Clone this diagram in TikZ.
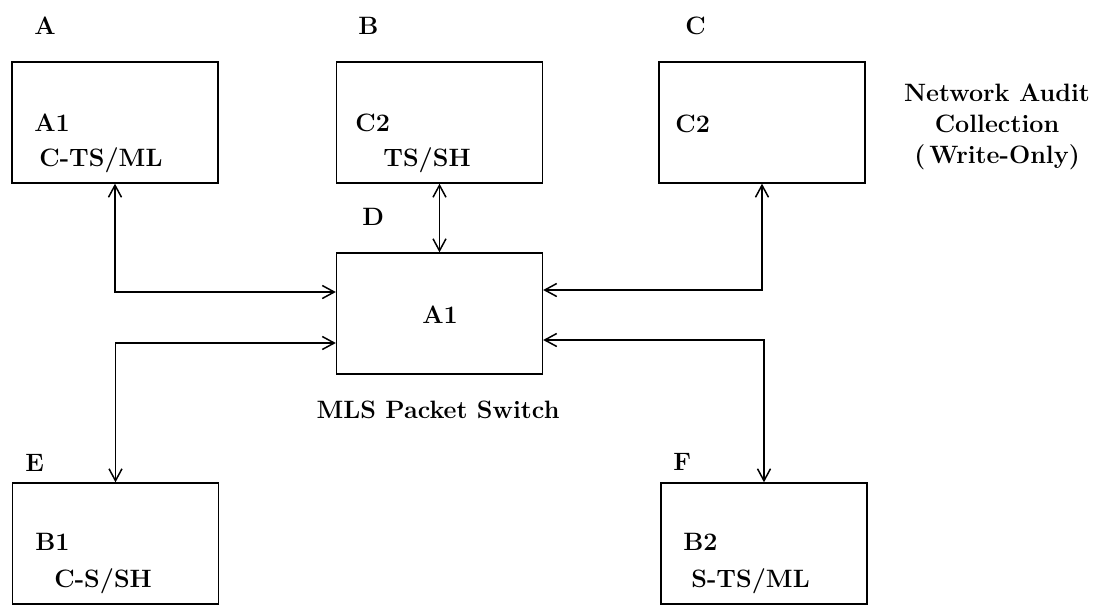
\documentclass[tikz,border=0pt]{standalone}
\usepackage{amsmath}
\usepackage{tikz}
\usetikzlibrary{arrows.meta}

\begin{document}
\begin{tikzpicture}[x=0.02cm, y=-0.02cm,
    host/.style={draw, line width=0.8pt, minimum width=4.12cm, minimum height=2.42cm, inner sep=0pt},
    txt/.style={anchor=base west, inner sep=0pt, font=\fontsize{14.3}{17}\selectfont\bfseries},
    link/.style={line width=0.85pt, {Straight Barb[length=0.24cm, width=0.26cm]}-{Straight Barb[length=0.24cm, width=0.26cm]}}]
    \useasboundingbox (0,0) rectangle (1100,606);

    % Hosts
    \node[host] (boxA) at (115,122.5) {};
    \node[host] (boxB) at (439.5,122.5) {};
    \node[host] (boxC) at (762,122.5) {};
    \node[host] (boxD) at (439.5,313.5) {};
    \node[host] (boxE) at (115.5,543.5) {};
    \node[host] (boxF) at (764,543.5) {};

    % Site letters
    \node[txt] (labA) at (34,34) {A};
    \node[txt] (labB) at (358,34) {B};
    \node[txt] (labC) at (685,34) {C};
    \node[txt] (labD) at (362,225) {D};
    \node[txt] (labE) at (25,471) {E};
    \node[txt] (labF) at (673,470) {F};

    % Classes inside the hosts
    \node[txt] (clsA) at (34,131) {A1};
    \node[txt] (rngA) at (39,166) {C-TS/ML};
    \node[txt] (clsB) at (355,131) {C2};
    \node[txt] (rngB) at (383,166) {TS/SH};
    \node[txt] (clsC) at (675,132) {C2};
    \node[txt, anchor=base] (clsD) at (440,323) {A1};
    \node[txt] (clsE) at (35,550) {B1};
    \node[txt] (rngE) at (54,587) {C-S/SH};
    \node[txt] (clsF) at (683,550) {B2};
    \node[txt] (rngF) at (691,587) {S-TS/ML};

    % Captions
    \node[txt, anchor=base] (switch) at (438,418) {MLS Packet Switch};
    \node[txt, anchor=center, align=center, font=\fontsize{14.3}{17.5}\selectfont\bfseries] (audit) at (997,127) {Network Audit\\Collection\\(\,Write-Only)};

    % Links to the packet switch
    \draw[link] (boxA.south) |- ([yshift=0.43cm]boxD.west);
    \draw[link] (boxE.north) |- ([yshift=-0.59cm]boxD.west);
    \draw[link] (boxB.south) -- (boxD.north);
    \draw[link] (boxC.south) |- ([yshift=0.47cm]boxD.east);
    \draw[link] (boxF.north) |- ([yshift=-0.53cm]boxD.east);
\end{tikzpicture}
\end{document}
